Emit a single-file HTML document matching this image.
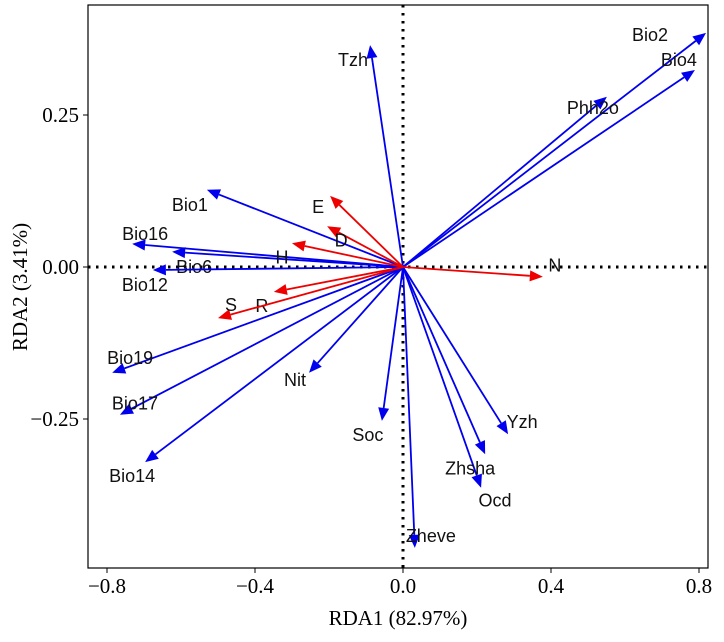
<!DOCTYPE html>
<html><head><meta charset="utf-8"><style>
body{margin:0;background:#fff;}
svg text{font-family:"Liberation Sans",sans-serif;}
.tick{font-family:"Liberation Serif",serif;font-size:21px;}
</style></head><body>
<svg id="chart" width="724" height="637" xmlns="http://www.w3.org/2000/svg"></svg>
<script>
const blueNames = ["Bio2","Bio4","Phh2o","Tzh","Bio1","Bio16","Bio6","Bio12","Bio19","Bio17","Bio14","Nit","Soc","Zheve","Ocd","Zhsha","Yzh"];
const blueX = [0.819,0.789,0.551,-0.089,-0.53,-0.732,-0.624,-0.676,-0.786,-0.765,-0.697,-0.254,-0.057,0.032,0.211,0.222,0.284];
const blueY = [0.385,0.324,0.280,0.365,0.127,0.038,0.025,-0.005,-0.174,-0.243,-0.321,-0.174,-0.253,-0.462,-0.363,-0.308,-0.275];
const redNames = ["E","D","H","R","S","N"];
const redX = [-0.197,-0.205,-0.30,-0.349,-0.50,0.378];
const redY = [0.117,0.067,0.039,-0.041,-0.084,-0.016];
const xTicks = [-0.8,-0.4,0.0,0.4,0.8];
const xTickLabels = ["\u22120.8","\u22120.4","0.0","0.4","0.8"];
const yTicks = [0.25,0,-0.25];
const yTickLabels = ["0.25","0.00","\u22120.25"];
// label pixel offsets relative to arrow tip (layout, not data)
const blueOff = [[-56,8],[-16,-4],[-14,17],[-17,21],[-17,21],[13,-4],[22,21],[-8,21],[18,-9],[15,-5],[-13,20],[-14,13],[-14,20],[16,-6],[14,19],[-15,20],[14,-6]];
const redOff = [[-12,17],[14,20],[-10,20],[-12,20],[13,-7],[12,-5]];

const L=88,R=708,T=5,B=568;
const sx=v=>403+v*370, sy=v=>267-v*608;
const svg=document.getElementById('chart');
const NS='http://www.w3.org/2000/svg';
function mk(t,a,p){const e=document.createElementNS(NS,t);for(const k in a)e.setAttribute(k,a[k]);(p||svg).appendChild(e);return e;}
const frame=mk('rect',{x:L,y:T,width:R-L,height:B-T,fill:'none',stroke:'#000','stroke-width':1.2});


const zx=mk('line',{x1:sx(0),x2:sx(0),y1:T,y2:B,stroke:'#000','stroke-width':3,'stroke-dasharray':'2.5 5.5'});


const zy=mk('line',{x1:L,x2:R,y1:sy(0),y2:sy(0),stroke:'#000','stroke-width':3,'stroke-dasharray':'2.5 5.5'});


xTicks.forEach((v,i)=>{
  const x=sx(v);
  const tl=mk('line',{x1:x,x2:x,y1:B,y2:B+5,stroke:'#000'});
  
  
  const t=mk('text',{x:x,y:B+25,'text-anchor':'middle',class:'tick'});t.textContent=xTickLabels[i];
  
  
});
yTicks.forEach((v,i)=>{
  const y=sy(v);
  const tl=mk('line',{x1:L-5,x2:L,y1:y,y2:y,stroke:'#000'});
  
  
  const t=mk('text',{x:L-9,y:y+7,'text-anchor':'end',class:'tick'});t.textContent=yTickLabels[i];
  
  
});
const xt=mk('text',{x:398,y:625,'text-anchor':'middle',class:'tick'});xt.textContent='RDA1 (82.97%)';


const yt=mk('text',{x:27,y:287,'text-anchor':'middle',class:'tick',transform:'rotate(-90 27 287)'});yt.textContent='RDA2 (3.41%)';


function arrow(x,y,color,name,off){
  const x0=sx(0),y0=sy(0),x1=sx(x),y1=sy(y);
  const dx=x1-x0,dy=y1-y0,len=Math.hypot(dx,dy),ux=dx/len,uy=dy/len;
  const hl=13,hw=5.5,bx=x1-ux*hl,by=y1-uy*hl;
  const g=mk('g',{});
  
  
  mk('line',{x1:x0,y1:y0,x2:bx,y2:by,stroke:color,'stroke-width':1.8},g);
  mk('polygon',{points:`${x1},${y1} ${bx-uy*hw},${by+ux*hw} ${bx+uy*hw},${by-ux*hw}`,fill:color},g);
  const t=mk('text',{x:x1+off[0],y:y1+off[1],'text-anchor':'middle','font-size':18,fill:'#111'},g);
  t.textContent=name;
  
  
}
blueNames.forEach((n,i)=>arrow(blueX[i],blueY[i],'#0000ee',n,blueOff[i]));
redNames.forEach((n,i)=>arrow(redX[i],redY[i],'#ee0000',n,redOff[i]));
</script>
</body></html>
